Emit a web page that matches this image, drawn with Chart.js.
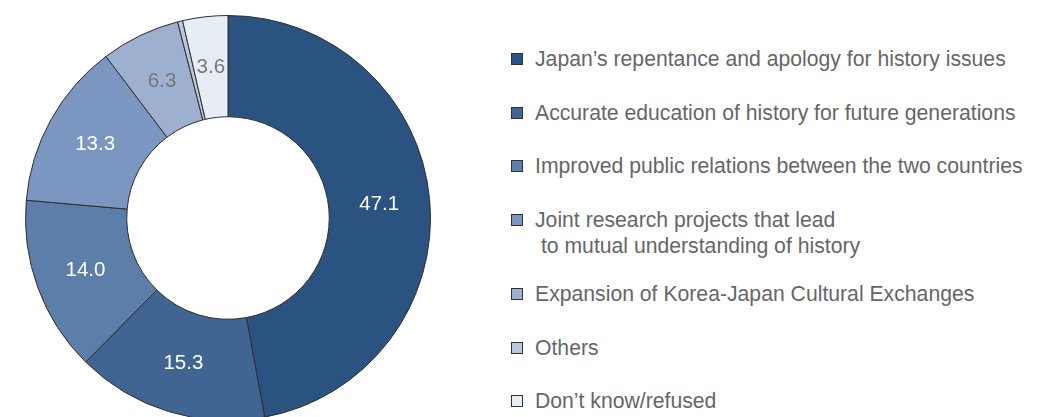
<!DOCTYPE html>
<html>
<head>
<meta charset="utf-8">
<script src="https://cdn.jsdelivr.net/npm/chart.js@4.4.0/dist/chart.umd.min.js"></script>
<style>
  html, body { margin: 0; padding: 0; background: #fff; width: 1047px; height: 417px; overflow: hidden; }
  #wrap { position: absolute; left: 18px; top: 8px; width: 420px; height: 420px; }
  #legend { position: absolute; left: 510px; top: 46px; }
  #legend ul { list-style: none; margin: 0; padding: 0; }
  #legend li { display: flex; align-items: flex-start; margin-bottom: 27.5px;
    font-family: "Liberation Sans", Arial, sans-serif; font-size: 21.2px; line-height: 26px; color: #666666; }
  #legend li.multi { margin-bottom: 22.5px; }
  #legend .box { flex: none; width: 10px; height: 10px; border: 1px solid #333; margin: 7px 12px 0 1px; }
</style>
</head>
<body>
<div id="wrap"><canvas id="donut"></canvas></div>
<div id="legend"><ul></ul></div>
<script>
// Data
const categories = [
  "Japan\u2019s repentance and apology for history issues",
  "Accurate education of history for future generations",
  "Improved public relations between the two countries",
  ["Joint research projects that lead", " to mutual understanding of history"],
  "Expansion of Korea-Japan Cultural Exchanges",
  "Others",
  "Don\u2019t know/refused",
];
const shares = [47.1, 15.3, 14.0, 13.3, 6.3, 0.4, 3.6];
const sliceColors = ['#2b5381', '#416592', '#5c7ea8', '#7b96c1', '#9db0cf', '#bcc6dc', '#e7edf5'];
const labelColors = ['#ffffff', '#ffffff', '#ffffff', '#ffffff', '#777777', null, '#777777'];

// Draw the values on the slices
const sliceLabels = {
  id: 'sliceLabels',
  afterDatasetsDraw(c) {
    const ctx = c.ctx;
    const meta = c.getDatasetMeta(0);
    ctx.save();
    ctx.font = '20.5px "Liberation Sans", Arial, sans-serif';
    ctx.textAlign = 'center';
    ctx.textBaseline = 'middle';
    meta.data.forEach((arc, i) => {
      if (!labelColors[i]) return;
      const p = arc.tooltipPosition();
      ctx.fillStyle = labelColors[i];
      ctx.fillText(shares[i].toFixed(1), p.x, p.y);
    });
    ctx.restore();
  },
};

const chart = new Chart(document.getElementById('donut'), {
  type: 'doughnut',
  data: {
    labels: categories,
    datasets: [{
      data: shares,
      backgroundColor: sliceColors,
      borderColor: '#2e2e2e',
      borderWidth: 1,
    }],
  },
  options: {
    responsive: true,
    maintainAspectRatio: false,
    cutout: '50%',
    layout: { padding: 7 },
    animation: false,
    plugins: {
      legend: { display: false },
      tooltip: { enabled: false },
      htmlLegend: { containerID: 'legend' },
    },
  },
  plugins: [sliceLabels, {
    id: 'htmlLegend',
    afterUpdate(c, args, options) {
      const ul = document.getElementById(options.containerID).querySelector('ul');
      while (ul.firstChild) ul.firstChild.remove();
      categories.forEach((text, i) => {
        const li = document.createElement('li');
        if (Array.isArray(text)) li.className = 'multi';
        const box = document.createElement('span');
        box.className = 'box';
        box.style.backgroundColor = sliceColors[i];
        const label = document.createElement('span');
        label.style.whiteSpace = 'pre';
        label.textContent = Array.isArray(text) ? text.join('\n') : text;
        li.appendChild(box);
        li.appendChild(label);
        ul.appendChild(li);
      });
    },
  }],
});
</script>
</body>
</html>
